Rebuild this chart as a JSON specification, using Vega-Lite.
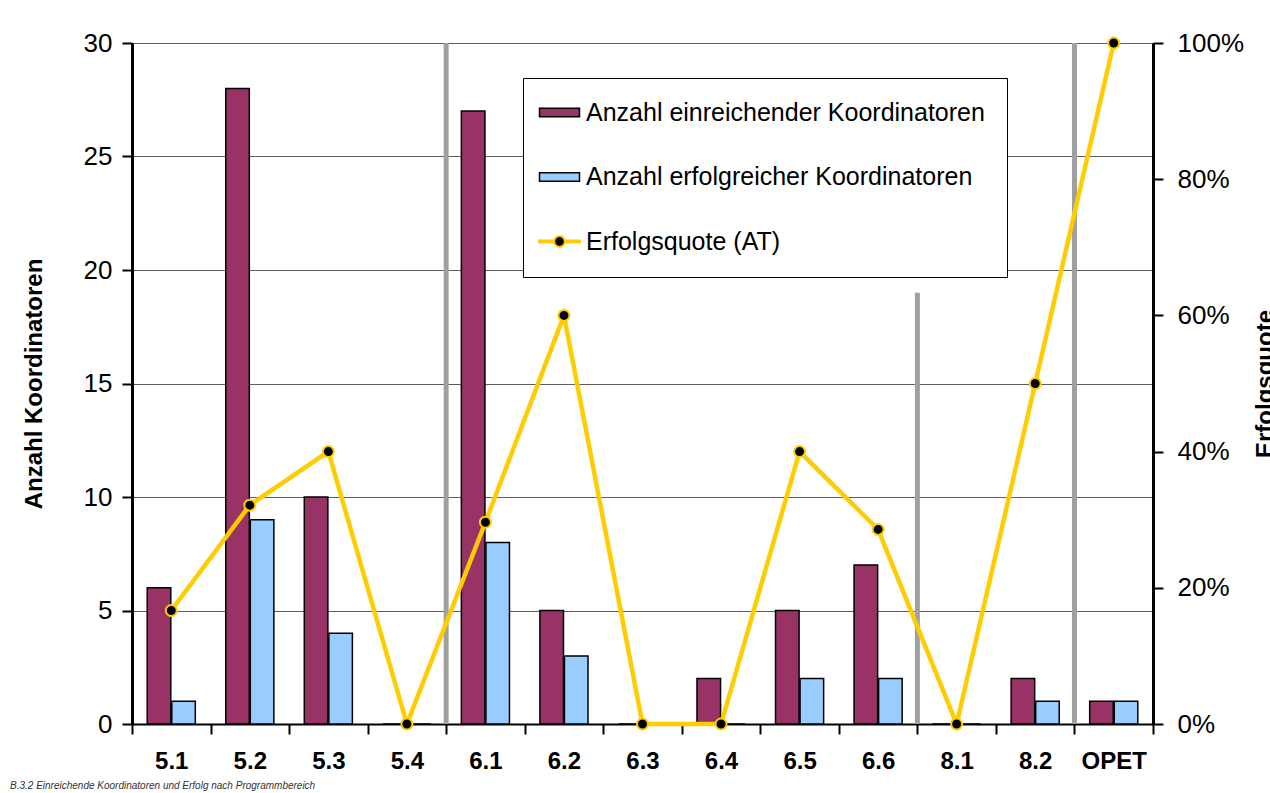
{
  "$schema": "https://vega.github.io/schema/vega-lite/v6.json",
  "width": 1021,
  "height": 681,
  "autosize": {"type": "none"},
  "padding": {"left": 132, "top": 43, "right": 117, "bottom": 69},
  "background": "white",
  "config": {
    "font": "Liberation Sans",
    "view": {"stroke": "#808080", "strokeWidth": 1},
    "axis": {"labelColor": "black", "titleColor": "black", "domainColor": "black", "tickColor": "black", "labelFont": "Liberation Sans", "titleFont": "Liberation Sans"}
  },
  "title": {
    "text": "B.3.2 Einreichende Koordinatoren und Erfolg nach Programmbereich",
    "orient": "bottom",
    "anchor": "start",
    "frame": "group",
    "dx": -122,
    "offset": 8,
    "font": "Liberation Sans",
    "fontSize": 10,
    "fontStyle": "italic",
    "fontWeight": "normal",
    "color": "#333333"
  },
  "datasets": {
    "bars": [
      {"bereich": "5.1", "serie": "Anzahl einreichender Koordinatoren", "anzahl": 6},
      {"bereich": "5.1", "serie": "Anzahl erfolgreicher Koordinatoren", "anzahl": 1},
      {"bereich": "5.2", "serie": "Anzahl einreichender Koordinatoren", "anzahl": 28},
      {"bereich": "5.2", "serie": "Anzahl erfolgreicher Koordinatoren", "anzahl": 9},
      {"bereich": "5.3", "serie": "Anzahl einreichender Koordinatoren", "anzahl": 10},
      {"bereich": "5.3", "serie": "Anzahl erfolgreicher Koordinatoren", "anzahl": 4},
      {"bereich": "5.4", "serie": "Anzahl einreichender Koordinatoren", "anzahl": 0},
      {"bereich": "5.4", "serie": "Anzahl erfolgreicher Koordinatoren", "anzahl": 0},
      {"bereich": "6.1", "serie": "Anzahl einreichender Koordinatoren", "anzahl": 27},
      {"bereich": "6.1", "serie": "Anzahl erfolgreicher Koordinatoren", "anzahl": 8},
      {"bereich": "6.2", "serie": "Anzahl einreichender Koordinatoren", "anzahl": 5},
      {"bereich": "6.2", "serie": "Anzahl erfolgreicher Koordinatoren", "anzahl": 3},
      {"bereich": "6.3", "serie": "Anzahl einreichender Koordinatoren", "anzahl": 0},
      {"bereich": "6.3", "serie": "Anzahl erfolgreicher Koordinatoren", "anzahl": 0},
      {"bereich": "6.4", "serie": "Anzahl einreichender Koordinatoren", "anzahl": 2},
      {"bereich": "6.4", "serie": "Anzahl erfolgreicher Koordinatoren", "anzahl": 0},
      {"bereich": "6.5", "serie": "Anzahl einreichender Koordinatoren", "anzahl": 5},
      {"bereich": "6.5", "serie": "Anzahl erfolgreicher Koordinatoren", "anzahl": 2},
      {"bereich": "6.6", "serie": "Anzahl einreichender Koordinatoren", "anzahl": 7},
      {"bereich": "6.6", "serie": "Anzahl erfolgreicher Koordinatoren", "anzahl": 2},
      {"bereich": "8.1", "serie": "Anzahl einreichender Koordinatoren", "anzahl": 0},
      {"bereich": "8.1", "serie": "Anzahl erfolgreicher Koordinatoren", "anzahl": 0},
      {"bereich": "8.2", "serie": "Anzahl einreichender Koordinatoren", "anzahl": 2},
      {"bereich": "8.2", "serie": "Anzahl erfolgreicher Koordinatoren", "anzahl": 1},
      {"bereich": "OPET", "serie": "Anzahl einreichender Koordinatoren", "anzahl": 1},
      {"bereich": "OPET", "serie": "Anzahl erfolgreicher Koordinatoren", "anzahl": 1}
    ],
    "quote": [
      {"bereich": "5.1", "quote": 0.1667},
      {"bereich": "5.2", "quote": 0.3214},
      {"bereich": "5.3", "quote": 0.4},
      {"bereich": "5.4", "quote": 0},
      {"bereich": "6.1", "quote": 0.2963},
      {"bereich": "6.2", "quote": 0.6},
      {"bereich": "6.3", "quote": 0},
      {"bereich": "6.4", "quote": 0},
      {"bereich": "6.5", "quote": 0.4},
      {"bereich": "6.6", "quote": 0.2857},
      {"bereich": "8.1", "quote": 0},
      {"bereich": "8.2", "quote": 0.5},
      {"bereich": "OPET", "quote": 1}
    ],
    "seps": [
      {"bereich": "6.1", "von": 0, "bis": 30},
      {"bereich": "8.1", "von": 0, "bis": 19},
      {"bereich": "OPET", "von": 0, "bis": 30}
    ]
  },
  "layer": [
    {
      "layer": [
        {
          "data": {"name": "bars"},
          "mark": {"type": "bar", "stroke": "black", "strokeWidth": 1.5},
          "encoding": {
            "x": {
              "field": "bereich", "type": "nominal",
              "scale": {"domain": ["5.1", "5.2", "5.3", "5.4", "6.1", "6.2", "6.3", "6.4", "6.5", "6.6", "8.1", "8.2", "OPET"], "paddingInner": 0, "paddingOuter": 0},
              "axis": {
                "title": null, "labelAngle": 0, "labelFontSize": 24, "labelFontWeight": "bold", "labelPadding": 15,
                "tickBand": "extent", "tickSize": 10, "tickWidth": 2, "domainWidth": 2, "grid": false
              }
            },
            "xOffset": {
              "field": "serie", "type": "nominal",
              "scale": {"domain": ["Anzahl einreichender Koordinatoren", "Anzahl erfolgreicher Koordinatoren"], "paddingInner": 0.04, "paddingOuter": 0.62}
            },
            "y": {
              "field": "anzahl", "type": "quantitative",
              "scale": {"domain": [0, 30], "nice": false},
              "axis": {
                "orient": "left", "title": "Anzahl Koordinatoren", "titleFontSize": 24, "titleFontWeight": "bold", "titlePadding": 37,
                "values": [0, 5, 10, 15, 20, 25, 30], "labelFontSize": 26, "labelPadding": 10,
                "tickSize": 10, "tickWidth": 2, "domainWidth": 3,
                "grid": true, "gridColor": "#5e5e5e", "gridWidth": 1.2
              }
            },
            "color": {
              "field": "serie", "type": "nominal",
              "scale": {"domain": ["Anzahl einreichender Koordinatoren", "Anzahl erfolgreicher Koordinatoren", "Erfolgsquote (AT)"], "range": ["#993366", "#99CCFF", "#000000"]},
              "legend": {
                "title": null, "orient": "none", "legendX": 391, "legendY": 35,
                "fillColor": "white", "strokeColor": "black", "padding": 22,
                "symbolSize": 1600, "symbolType": "M-1,-0.21H1V0.21H-1Z", "symbolOffset": 2,
                "symbolStrokeColor": "black", "symbolStrokeWidth": 1.5,
                "labelFont": "Liberation Sans", "labelFontSize": 25, "labelColor": "black", "labelOffset": 14, "labelLimit": 600,
                "rowPadding": 38.5,
                "encode": {
                  "symbols": {
                    "update": {
                      "shape": {"signal": "datum.value === 'Erfolgsquote (AT)' ? 'M-1.07,-0.05H-0.28M-1.07,0.05H-0.28M0.28,-0.05H1.07M0.28,0.05H1.07M0.27,0A0.27,0.27,0,1,1,-0.27,0A0.27,0.27,0,1,1,0.27,0Z' : 'M-1,-0.21H1V0.21H-1Z'"},
                      "stroke": {"signal": "datum.value === 'Erfolgsquote (AT)' ? '#FFCC00' : 'black'"},
                      "strokeWidth": {"signal": "datum.value === 'Erfolgsquote (AT)' ? 2 : 1.5"},
                      "opacity": {"value": 1}
                    }
                  }
                }
              }
            }
          }
        },
        {
          "data": {"name": "seps"},
          "mark": {"type": "rule", "color": "#a0a0a0", "strokeWidth": 5},
          "encoding": {
            "x": {"field": "bereich", "type": "nominal", "bandPosition": 0},
            "y": {"field": "von", "type": "quantitative"},
            "y2": {"field": "bis"}
          }
        }
      ]
    },
    {
      "data": {"name": "quote"},
      "encoding": {
        "x": {"field": "bereich", "type": "nominal"},
        "y": {
          "field": "quote", "type": "quantitative",
          "scale": {"domain": [0, 1], "nice": false},
          "axis": {
            "orient": "right", "title": "Erfolgsquote", "titleFontSize": 24, "titleFontWeight": "bold",
            "titleAngle": 270, "titleBaseline": "top", "titlePadding": 10,
            "values": [0, 0.2, 0.4, 0.6, 0.8, 1], "format": ".0%", "labelFontSize": 26, "labelPadding": 14,
            "tickSize": 10, "tickWidth": 2, "domainWidth": 3, "grid": false
          }
        }
      },
      "layer": [
        {"mark": {"type": "line", "color": "#FFCC00", "strokeWidth": 4.5}},
        {"mark": {"type": "point", "shape": "circle", "filled": true, "fill": "black", "stroke": "#FFCC00", "strokeWidth": 2, "size": 121, "opacity": 1}}
      ]
    }
  ],
  "resolve": {"scale": {"y": "independent"}}
}
